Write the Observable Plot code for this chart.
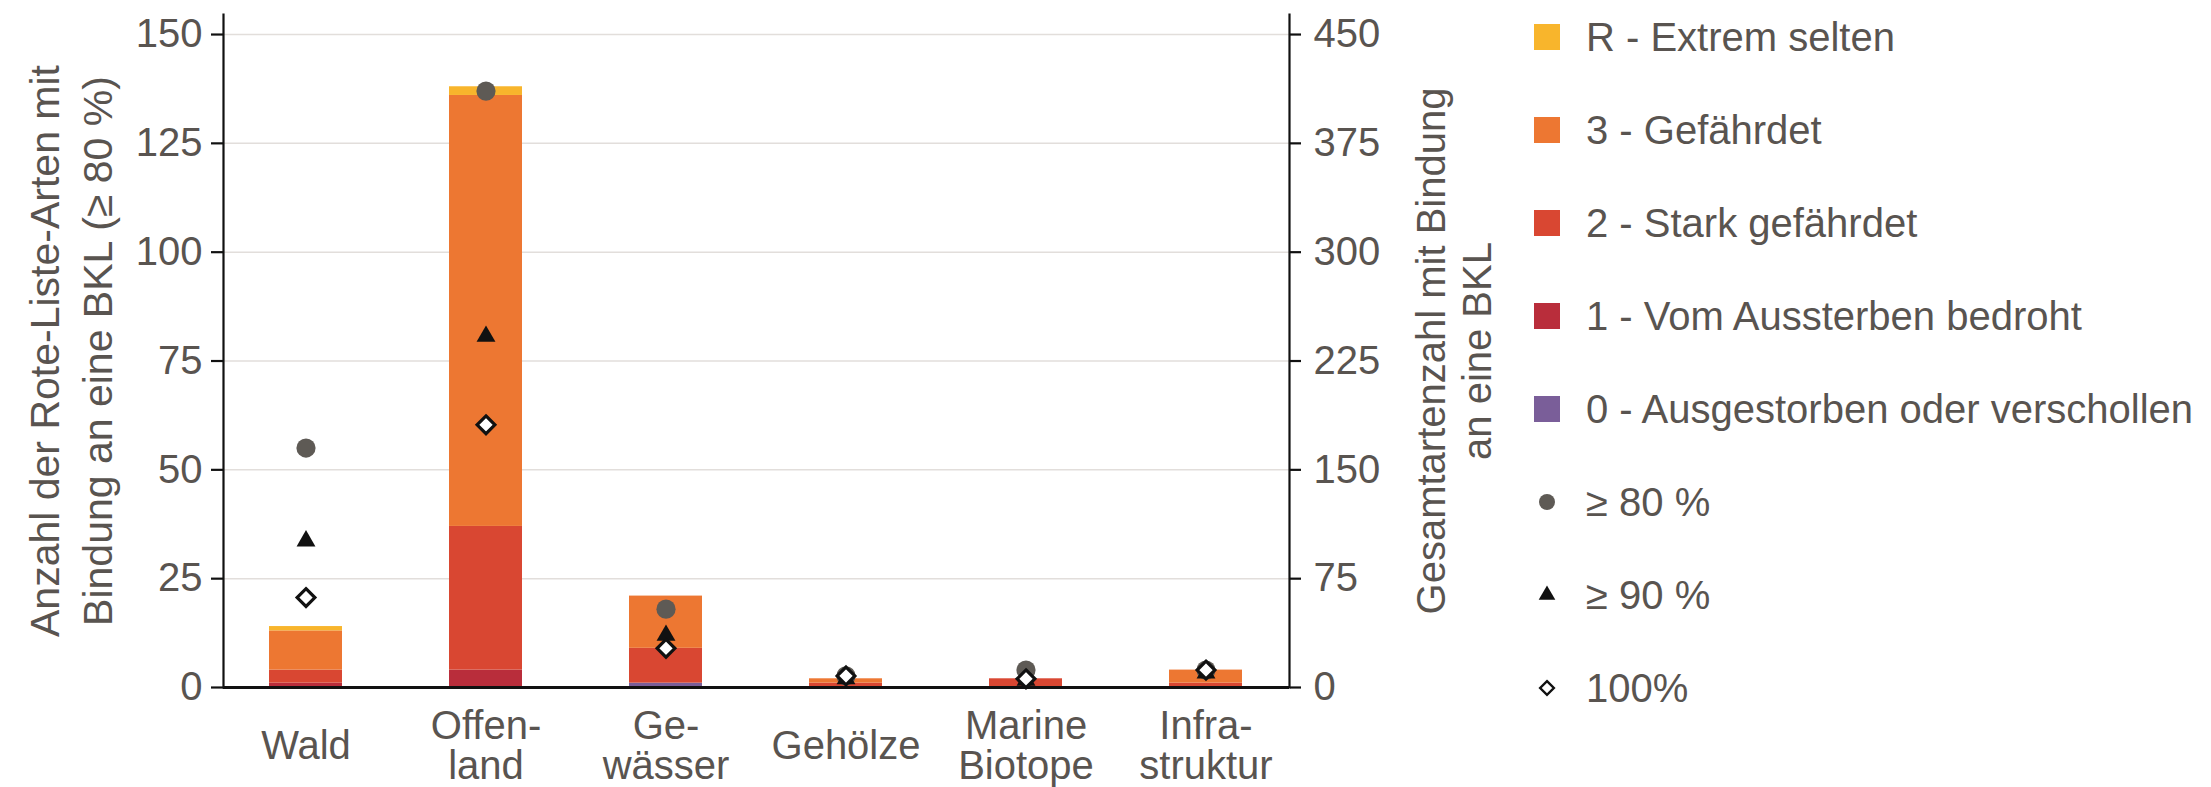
<!DOCTYPE html>
<html>
<head>
<meta charset="utf-8">
<script src="https://cdn.jsdelivr.net/npm/d3@7"></script>
<script src="https://cdn.jsdelivr.net/npm/@observablehq/plot@0.6"></script>
<style>
  html, body { margin: 0; padding: 0; background: #ffffff; }
  body { font-family: "Liberation Sans", Arial, Helvetica, sans-serif; }
  #wrap { display: flex; flex-direction: row; width: 2211px; height: 787px; }
  #chart { width: 1520px; height: 787px; }
  #legend { position: relative; width: 691px; height: 787px; color: #595450; font-size: 40px; }
  .row { position: absolute; left: 14px; height: 40px; display: flex; align-items: center; white-space: nowrap; }
  .sym { width: 26px; height: 26px; flex: none; }
  .lab { margin-left: 26px; line-height: 40px; }
</style>
</head>
<body>
<div id="wrap">
  <div id="chart"></div>
  <div id="legend"></div>
</div>
<script>
// ---------- data ----------
const categories = ["Wald", "Offenland", "Gewässer", "Gehölze", "Marine Biotope", "Infrastruktur"];
const categoryLabels = ["Wald", "Offen-\nland", "Ge-\nwässer", "Gehölze", "Marine\nBiotope", "Infra-\nstruktur"];

// Red-list categories, stacked bottom to top (left axis: Rote-Liste-Arten)
const statusNames = ["0 - Ausgestorben oder verschollen", "1 - Vom Aussterben bedroht", "2 - Stark gefährdet", "3 - Gefährdet", "R - Extrem selten"];
const statusColors = ["#7a5e99", "#b92d3b", "#d94732", "#ed7732", "#f8b52c"];
const status0 = [0, 0, 1, 0, 0, 0];
const status1 = [1, 4, 0, 0, 0, 0];
const status2 = [3, 33, 8, 1, 2, 1];
const status3 = [9, 99, 12, 1, 0, 3];
const statusR = [1, 2, 0, 0, 0, 0];

// Total species with binding (right axis)
const total80 = [165, 411, 54, 8, 12, 12];
const total90 = [101, 242, 36, 6, 5, 10];
const total100 = [62, 181, 27, 8, 6, 12];

const leftTicks = [0, 25, 50, 75, 100, 125, 150];
const rightTicks = [0, 75, 150, 225, 300, 375, 450];
const rightFactor = 3;

const leftTitle = "Anzahl der Rote-Liste-Arten mit\nBindung an eine BKL (≥ 80 %)";
const rightTitle = "Gesamtartenzahl mit Bindung\nan eine BKL";
const markerNames = ["≥ 80 %", "≥ 90 %", "100%"];

// ---------- build tables ----------
const statusSeries = [status0, status1, status2, status3, statusR];
const barData = [];
categories.forEach((c, i) => {
  statusSeries.forEach((s, k) => {
    barData.push({cat: c, status: statusNames[k], value: s[i]});
  });
});
const markerData = categories.map((c, i) => ({cat: c, p80: total80[i], p90: total90[i], p100: total100[i], label: categoryLabels[i]}));

const textColor = "#595450";
const axisColor = "#111111";

const chart = Plot.plot({
  width: 1520,
  height: 787,
  marginLeft: 223,
  marginRight: 231,
  marginTop: 14,
  marginBottom: 100,
  style: {fontFamily: '"Liberation Sans", Arial, Helvetica, sans-serif', color: textColor, background: "#ffffff", overflow: "visible"},
  x: {domain: categories, type: "band", paddingInner: 0.593, paddingOuter: 0.243, align: 0.5, axis: null},
  y: {domain: [0, 154.6], axis: null},
  color: {domain: statusNames, range: statusColors},
  marks: [
    Plot.gridY(leftTicks, {stroke: "#e2dedb", strokeOpacity: 1, strokeWidth: 1.5}),
    Plot.barY(barData, {x: "cat", y: "value", fill: "status", inset: 0}),
    Plot.ruleY([0], {stroke: axisColor, strokeWidth: 3}),
    Plot.frame({anchor: "left", stroke: axisColor, strokeWidth: 2.2}),
    Plot.frame({anchor: "right", stroke: axisColor, strokeWidth: 2.2}),
    Plot.axisY({anchor: "left", ticks: leftTicks, tickSize: 12, tickPadding: 9, fontSize: 40, stroke: axisColor, strokeWidth: 2.2, fill: textColor, label: null}),
    Plot.axisY({anchor: "right", ticks: rightTicks.map(v => v / rightFactor), tickFormat: d => String(d * rightFactor), tickSize: 11, tickPadding: 13, fontSize: 40, stroke: axisColor, strokeWidth: 2.2, fill: textColor, label: null}),
    Plot.dot(markerData, {x: "cat", y: d => d.p80 / rightFactor, r: 9.6, fill: "#5e5a55", stroke: null}),
    Plot.dot(markerData, {x: "cat", y: d => d.p90 / rightFactor, r: 7, symbol: "triangle", fill: "#111111", stroke: null}),
    Plot.dot(markerData, {x: "cat", y: d => d.p100 / rightFactor, r: 8, symbol: "diamond2", fill: "#ffffff", stroke: "#111111", strokeWidth: 3.2}),
    Plot.text(markerData, {x: "cat", text: "label", frameAnchor: "bottom", dy: 59, lineAnchor: "middle", lineHeight: 1.0, fontSize: 40, fill: textColor, textAnchor: "middle"}),
    Plot.text([leftTitle], {text: d => d, frameAnchor: "left", dx: -155, rotate: -90, textAnchor: "middle", lineAnchor: "middle", lineHeight: 1.28, fontSize: 41, fill: textColor}),
    Plot.text([rightTitle], {text: d => d, frameAnchor: "right", dx: 164, rotate: -90, textAnchor: "middle", lineAnchor: "middle", lineHeight: 1.15, fontSize: 40, fill: textColor})
  ]
});
document.getElementById("chart").appendChild(chart);

// ---------- legend ----------
const legend = document.getElementById("legend");
const legendItems = [
  {name: statusNames[4], color: statusColors[4], kind: "square"},
  {name: statusNames[3], color: statusColors[3], kind: "square"},
  {name: statusNames[2], color: statusColors[2], kind: "square"},
  {name: statusNames[1], color: statusColors[1], kind: "square"},
  {name: statusNames[0], color: statusColors[0], kind: "square"},
  {name: markerNames[0], kind: "circle"},
  {name: markerNames[1], kind: "triangle"},
  {name: markerNames[2], kind: "diamond"}
];
const ns = "http://www.w3.org/2000/svg";
legendItems.forEach((it, k) => {
  const row = document.createElement("div");
  row.className = "row";
  row.style.top = (37 + 93 * k - 20) + "px";
  const svg = document.createElementNS(ns, "svg");
  svg.setAttribute("class", "sym");
  svg.setAttribute("width", 26);
  svg.setAttribute("height", 26);
  svg.setAttribute("viewBox", "-13 -13 26 26");
  let el;
  if (it.kind === "square") {
    el = document.createElementNS(ns, "rect");
    el.setAttribute("x", -13); el.setAttribute("y", -13);
    el.setAttribute("width", 26); el.setAttribute("height", 26);
    el.setAttribute("fill", it.color);
  } else if (it.kind === "circle") {
    el = document.createElementNS(ns, "circle");
    el.setAttribute("r", 8);
    el.setAttribute("fill", "#5e5a55");
  } else if (it.kind === "triangle") {
    el = document.createElementNS(ns, "path");
    el.setAttribute("d", d3.symbol(d3.symbolTriangle, 120)());
    el.setAttribute("fill", "#111111");
  } else {
    el = document.createElementNS(ns, "path");
    el.setAttribute("d", d3.symbol(d3.symbolDiamond2, 120)());
    el.setAttribute("fill", "#ffffff");
    el.setAttribute("stroke", "#111111");
    el.setAttribute("stroke-width", 2.4);
  }
  svg.appendChild(el);
  row.appendChild(svg);
  const lab = document.createElement("span");
  lab.className = "lab";
  lab.textContent = it.name;
  row.appendChild(lab);
  legend.appendChild(row);
});
</script>
</body>
</html>
